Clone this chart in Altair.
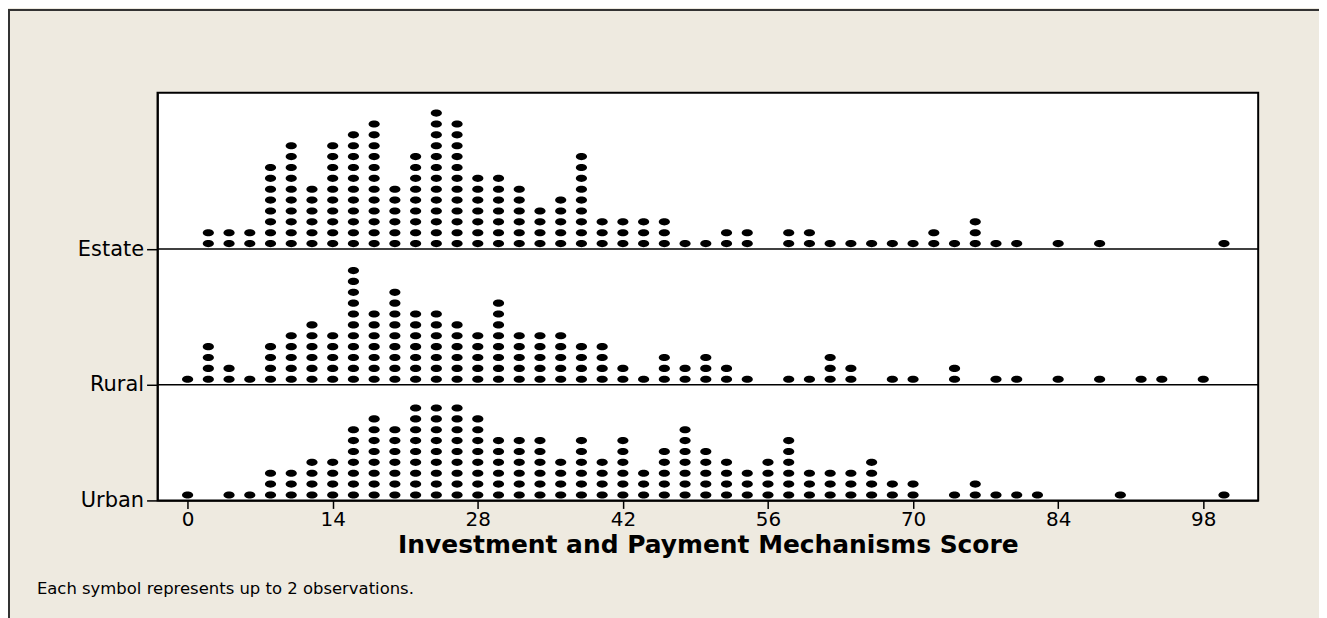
import altair as alt
import pandas as pd

# ---- data (column score, number of symbols) ----
groups = ["Estate", "Rural", "Urban"]

estate_x = [2, 4, 6, 8, 10, 12, 14, 16, 18, 20, 22, 24, 26, 28, 30, 32, 34, 36, 38, 40,
            42, 44, 46, 48, 50, 52, 54, 58, 60, 62, 64, 66, 68, 70, 72, 74, 76, 78, 80, 84,
            88, 100]
estate_n = [2, 2, 2, 8, 10, 6, 10, 11, 12, 6, 9, 13, 12, 7, 7, 6, 4, 5, 9, 3,
            3, 3, 3, 1, 1, 2, 2, 2, 2, 1, 1, 1, 1, 1, 2, 1, 3, 1, 1, 1,
            1, 1]

rural_x = [0, 2, 4, 6, 8, 10, 12, 14, 16, 18, 20, 22, 24, 26, 28, 30, 32, 34, 36, 38,
           40, 42, 44, 46, 48, 50, 52, 54, 58, 60, 62, 64, 68, 70, 74, 78, 80, 84, 88, 92,
           94, 98]
rural_n = [1, 4, 2, 1, 4, 5, 6, 5, 11, 7, 9, 7, 7, 6, 5, 8, 5, 5, 5, 4,
           4, 2, 1, 3, 2, 3, 2, 1, 1, 1, 3, 2, 1, 1, 2, 1, 1, 1, 1, 1,
           1, 1]

urban_x = [0, 4, 6, 8, 10, 12, 14, 16, 18, 20, 22, 24, 26, 28, 30, 32, 34, 36, 38, 40,
           42, 44, 46, 48, 50, 52, 54, 56, 58, 60, 62, 64, 66, 68, 70, 74, 76, 78, 80, 82,
           90, 100]
urban_n = [1, 1, 1, 3, 3, 4, 4, 7, 8, 7, 9, 9, 9, 8, 6, 6, 6, 4, 6, 4,
           6, 3, 5, 7, 5, 4, 3, 4, 6, 3, 3, 3, 4, 2, 2, 1, 2, 1, 1, 1,
           1, 1]

x_ticks = [0, 14, 28, 42, 56, 70, 84, 98]
x_title = "Investment and Payment Mechanisms Score"
footnote = ["Each symbol represents up to 2 observations."]

# ---- layout (in symbol-height units) ----
baseline = {"Urban": 0.0, "Rural": 10.64, "Estate": 23.12}
y_top = 37.5

series = {"Estate": (estate_x, estate_n), "Rural": (rural_x, rural_n), "Urban": (urban_x, urban_n)}
rows = []
for g in groups:
    xs, ns = series[g]
    for xv, n in zip(xs, ns):
        for k in range(n):
            rows.append({"group": g, "score": xv, "level": baseline[g] + 0.5 + k})
dots = pd.DataFrame(rows)

W, H = 1104, 409
FONT = "DejaVu Sans"

x_scale = alt.Scale(domain=[-2.9, 103.3], nice=False, zero=False)
y_scale = alt.Scale(domain=[0, y_top], nice=False, zero=True)

label_expr = " : ".join(
    f"datum.value > {baseline[g] - 0.5} && datum.value < {baseline[g] + 0.5} ? '{g}'" for g in groups
) + " : ''"

ellipse = "M -1 0 A 1 0.64 0 1 1 1 0 A 1 0.64 0 1 1 -1 0 Z"

points = alt.Chart(dots).mark_point(
    shape=ellipse, filled=True, color="black", opacity=1, size=125, strokeWidth=0
).encode(
    x=alt.X("score:Q", scale=x_scale,
            axis=alt.Axis(values=x_ticks, title=x_title, grid=False, tickSize=8,
                          tickColor="black", tickWidth=1.5, domainColor="black", domainWidth=1.5,
                          labelFont=FONT, labelFontSize=20, labelColor="black", labelPadding=1,
                          titleFont=FONT, titleFontSize=25, titleFontWeight="bold",
                          titleColor="black", titlePadding=3)),
    y=alt.Y("level:Q", scale=y_scale,
            axis=alt.Axis(values=[baseline[g] for g in groups], labelExpr=label_expr,
                          title=None, grid=False, tickSize=11, tickColor="black", tickWidth=1.5,
                          domainColor="black", domainWidth=1.5,
                          labelFont=FONT, labelFontSize=21, labelColor="black", labelPadding=3)),
)

sep = pd.DataFrame({"group": groups[:2], "level": [baseline[g] for g in groups[:2]]})
rules = alt.Chart(sep).mark_rule(color="black", strokeWidth=1.5).encode(
    y=alt.Y("level:Q", scale=y_scale)
)

note = alt.Chart(pd.DataFrame({"t": footnote})).mark_text(
    align="left", baseline="middle", font=FONT, fontSize=16.5, color="black"
).encode(text="t:N", x=alt.value(-121), y=alt.value(498))

frame = alt.Chart(pd.DataFrame({"t": [0]})).mark_rect(
    fill=None, stroke="#333333", strokeWidth=2
).encode(x=alt.value(-149), x2=alt.value(W + 63), y=alt.value(-83), y2=alt.value(H + 140))

chart = alt.layer(frame, rules, points, note).properties(
    width=W, height=H,
    autosize=alt.AutoSizeParams(type="none"),
    padding={"left": 150, "top": 84, "right": 61, "bottom": 117},
    background="#EEEAE0",
).configure_view(fill="white", stroke="black", strokeWidth=2)

chart.save("out.html", embed_options={"renderer": "svg", "actions": False})
